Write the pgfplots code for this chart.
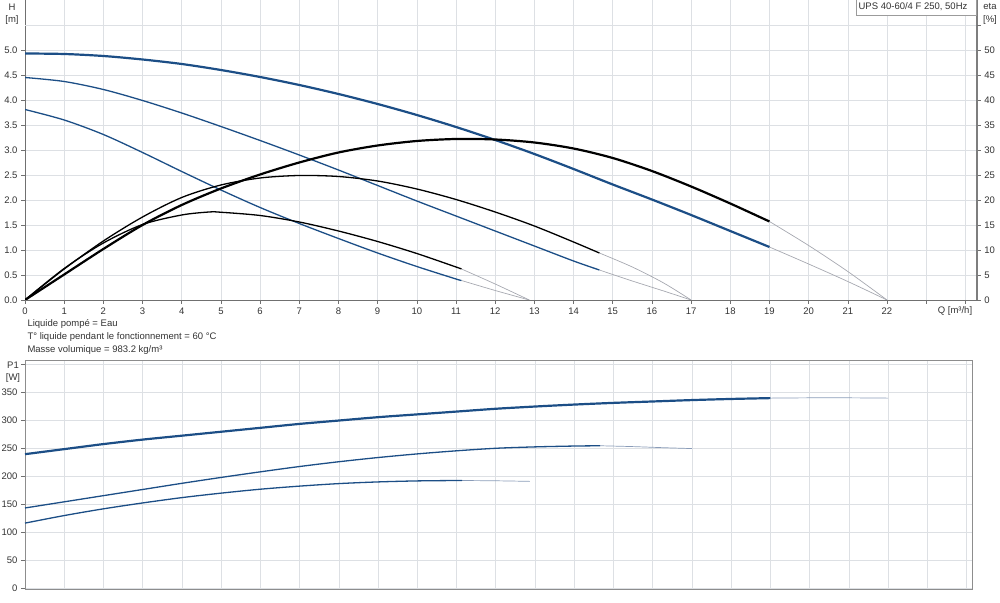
\documentclass[border=0pt]{standalone}
\usepackage{fontspec}
\setmainfont{Liberation Sans}
\usepackage{pgfplots}
\pgfplotsset{compat=1.18}
\definecolor{hblue}{HTML}{1C4E86}
\definecolor{gridc}{HTML}{DDE0E4}
\definecolor{axc}{HTML}{707070}
\definecolor{extc}{HTML}{A6A8B0}
\definecolor{pext}{HTML}{8A9CB8}
\newcommand{\lf}{\fontsize{9.5}{11}\selectfont}
\begin{document}
\begin{tikzpicture}
\path[use as bounding box] (0pt,0pt) rectangle (1000pt,602pt);
\pgfplotsset{
 every axis/.append style={
  scale only axis,
  /pgf/number format/assume math mode=true,
  tick label style={font=\lf, text=black!80},
  axis line style={draw=axc},
  tick style={draw=axc, line width=0.6pt},
  major tick length=4pt,
  tick align=outside,
  grid style={draw=gridc, line width=0.6pt},
 }
}
% ---------- top: H ----------
\begin{axis}[at={(25pt,302pt)}, anchor=south west, width=951.7pt, height=300pt,
 xmin=0, xmax=24.29, ymin=0, ymax=6,
 axis x line*=bottom, axis y line*=left,
 x axis line style={-}, y axis line style={-},
 xtick={0,1,2,3,4,5,6,7,8,9,10,11,12,13,14,15,16,17,18,19,20,21,22,23,24},
 xticklabels={0,1,2,3,4,5,6,7,8,9,10,11,12,13,14,15,16,17,18,19,20,21,22,{},{}},
 ytick={0,0.5,1,1.5,2,2.5,3,3.5,4,4.5,5},
 extra y ticks={5.5}, extra y tick labels={}, extra y tick style={major tick length=0pt},
 yticklabel style={/pgf/number format/.cd, fixed, fixed zerofill, precision=1},
 xmajorgrids, ymajorgrids,
]
% extensions
\addplot[draw=extc, line width=0.7pt, smooth, mark=none] coordinates {(19,1.06) (20,0.72) (21,0.37) (22,0)};
\addplot[draw=extc, line width=0.7pt, smooth, mark=none] coordinates {(14.66,0.60) (15.5,0.38) (16.3,0.18) (17,0)};
\addplot[draw=extc, line width=0.7pt, smooth, mark=none] coordinates {(11.14,0.39) (12,0.19) (12.87,0)};
% H curves
\addplot[draw=hblue, line width=2.2pt, smooth, mark=none] coordinates {
(0,4.93) (1,4.92) (2,4.88) (3,4.81) (4,4.72) (5,4.60) (6,4.46) (7,4.30) (8,4.12) (9,3.92)
(10,3.70) (11,3.46) (12,3.20) (13,2.92) (14,2.62) (15,2.31) (16,2.01) (17,1.70) (18,1.38) (19,1.06)};
\addplot[draw=hblue, line width=1.3pt, smooth, mark=none] coordinates {
(0,4.45) (1,4.37) (2,4.21) (3,3.99) (4,3.74) (5,3.47) (6,3.19) (7,2.90) (8,2.60) (9,2.29)
(10,1.98) (11,1.68) (12,1.38) (13,1.08) (14,0.78) (14.66,0.60)};
\addplot[draw=hblue, line width=1.3pt, smooth, mark=none] coordinates {
(0,3.81) (1,3.60) (2,3.31) (3,2.95) (4,2.57) (5,2.20) (6,1.85) (7,1.53) (8,1.23) (9,0.94)
(10,0.67) (11,0.42) (11.14,0.39)};
\end{axis}
% ---------- top: eta ----------
\begin{axis}[at={(25pt,302pt)}, anchor=south west, width=951.7pt, height=300pt,
 xmin=0, xmax=24.29, ymin=0, ymax=60,
 axis x line=none, axis y line*=right,
 y axis line style={-, line width=2.2pt, draw=axc!90},
 ytick={0,5,10,15,20,25,30,35,40,45,50},
 extra y ticks={55}, extra y tick labels={},
]
\addplot[draw=extc, line width=0.7pt, smooth, mark=none] coordinates {(19,15.7) (20,10.9) (21,5.7) (22,0)};
\addplot[draw=extc, line width=0.7pt, smooth, mark=none] coordinates {(14.66,9.4) (15.5,6.6) (16.3,3.4) (17,0)};
\addplot[draw=extc, line width=0.7pt, smooth, mark=none] coordinates {(11.14,6.2) (12,3.2) (12.87,0)};
\addplot[draw=black, line width=2.2pt, smooth, mark=none] coordinates {
(0,0) (1,5.1) (2,10.2) (3,15.0) (4,19.0) (5,22.3) (6,25.1) (7,27.5) (8,29.5) (9,30.9)
(10,31.8) (11,32.2) (12,32.1) (13,31.5) (14,30.3) (15,28.4) (16,25.8) (17,22.7) (18,19.3) (19,15.7)};
\addplot[draw=black, line width=1.3pt, smooth, mark=none] coordinates {
(0,0) (1,6.2) (2,11.8) (3,16.6) (4,20.5) (5,23.0) (6,24.4) (7,24.9) (8,24.7) (9,23.8)
(10,22.2) (11,20.1) (12,17.6) (13,14.8) (14,11.6) (14.66,9.4)};
\addplot[draw=black, line width=1.3pt, smooth, mark=none] coordinates {
(0,0) (1,6.3) (2,11.4) (3,15.1) (4,17.0) (4.7,17.6) (5,17.55) (6,16.9) (7,15.6) (8,13.8)
(9,11.7) (10,9.3) (11,6.6) (11.14,6.2)};
\end{axis}
% ---------- bottom: P1 ----------
\begin{axis}[at={(25pt,13.3pt)}, anchor=south west, width=947pt, height=228.7pt,
 xmin=0, xmax=24.14, ymin=0, ymax=408,
 axis line style={draw=axc!80},
 xtick={0,1,2,3,4,5,6,7,8,9,10,11,12,13,14,15,16,17,18,19,20,21,22,23,24},
 xticklabels={}, xtick style={draw=none},
 ytick={0,50,100,150,200,250,300,350,400},
 yticklabels={0,50,100,150,200,250,300,350,{}},
 ytick pos=left,
 xmajorgrids, ymajorgrids,
]
\addplot[draw=pext, line width=0.7pt, smooth, mark=none] coordinates {(19,340) (20,340.5) (21,340.5) (22,340)};
\addplot[draw=pext, line width=0.7pt, smooth, mark=none] coordinates {(14.66,255) (15.5,253.5) (16.3,251.5) (17,250)};
\addplot[draw=pext, line width=0.7pt, smooth, mark=none] coordinates {(11.14,193) (12,192.5) (12.87,191.5)};
\addplot[draw=hblue, line width=2.2pt, smooth, mark=none] coordinates {
(0,240) (1,249) (2,258) (3,266) (4,273) (5,280) (6,287) (7,294) (8,300) (9,306)
(10,311) (11,316) (12,321) (13,325) (14,328.5) (15,331.5) (16,334) (17,336.5) (18,338.5) (19,340)};
\addplot[draw=hblue, line width=1.3pt, smooth, mark=none] coordinates {
(0,144) (1,155) (2,166) (3,177) (4,188) (5,198.5) (6,208.5) (7,218) (8,226.5) (9,234)
(10,240.5) (11,246) (12,250.5) (13,253) (14,254.5) (14.66,255)};
\addplot[draw=hblue, line width=1.3pt, smooth, mark=none] coordinates {
(0,117) (1,130.5) (2,142.5) (3,153) (4,162.5) (5,170.5) (6,177.5) (7,183) (8,187.5) (9,190.5)
(10,192.3) (11,193) (11.14,193)};
\end{axis}
% ---------- labels ----------
\node[font=\lf, text=black!80, anchor=north] at (12pt,602pt) {H};
\node[font=\lf, text=black!80, anchor=north] at (12pt,590pt) {[m]};
\node[font=\lf, text=black!80, anchor=north] at (990pt,602pt) {eta};
\node[font=\lf, text=black!80, anchor=north] at (990pt,590pt) {[\%]};
\node[font=\lf, text=black!80, anchor=north] at (13pt,244pt) {P1};
\node[font=\lf, text=black!80, anchor=north] at (13pt,232pt) {[W]};
\node[font=\lf, text=black!80] at (955pt,291pt) {Q [m³/h]};
\draw[draw=axc!70, fill=white, line width=0.6pt] (856.7pt,603pt) rectangle (976.7pt,587pt);
\node[font=\lf, text=black!80] at (913pt,595pt) {UPS 40-60/4 F 250, 50Hz};
\node[font=\lf, text=black!80, anchor=west] at (24pt,278pt) {Liquide pompé = Eau};
\node[font=\lf, text=black!80, anchor=west] at (24pt,265pt) {T° liquide pendant le fonctionnement = 60 °C};
\node[font=\lf, text=black!80, anchor=west] at (24pt,252pt) {Masse volumique = 983.2 kg/m³};
\end{tikzpicture}
\end{document}
